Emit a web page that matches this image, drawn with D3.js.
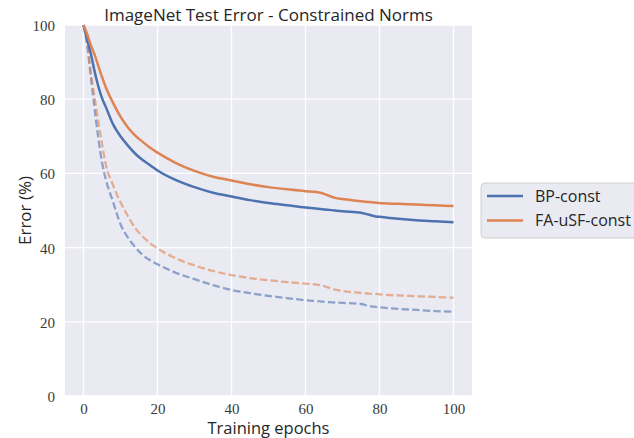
<!DOCTYPE html>
<html>
<head>
<meta charset="utf-8">
<script src="https://cdn.jsdelivr.net/npm/d3@7"></script>
<style>
  body { margin: 0; background: #fff; }
  svg { display: block; }
  .tick-label { font-family: "Liberation Serif", serif; font-size: 15px; fill: #3a3a3a; }
  .sans { font-family: "Open Sans", "DejaVu Sans", sans-serif; fill: #262626; }
</style>
</head>
<body>
<svg id="chart" width="634" height="438"></svg>
<script>
const epochs = [0, 1, 2, 3, 4, 5, 6, 8, 10, 12, 14, 16, 18, 20, 25, 30, 35, 40, 45, 50,
  55, 60, 64, 66, 68, 70, 75, 77, 79, 80, 85, 90, 95, 100]

// test error (solid)
const bpTest = [100, 96, 92.2, 87.5, 83.5, 80.3, 78, 73.2, 70, 67.5, 65.3, 63.6, 62.2, 60.8, 58.2, 56.3,
  54.8, 53.8, 52.8, 52.0, 51.4, 50.8, 50.4, 50.2, 50.0, 49.8, 49.4, 48.9, 48.4, 48.3, 47.8, 47.4, 47.1, 46.8]
const faTest = [100, 97.5, 94.5, 92, 89, 86, 83.3, 79, 75.3, 72.4, 70.2, 68.5, 66.9, 65.6, 62.8, 60.7,
  59.1, 58.1, 57.1, 56.3, 55.7, 55.2, 54.8, 54.1, 53.4, 53.1, 52.5, 52.3, 52.1, 52.0, 51.8, 51.6, 51.4, 51.2]

// train error (dashed)
const bpTrain = [100, 94.5, 86, 77.5, 69.5, 63, 58.5, 52.3, 46.3, 42.7, 40.1, 38, 36.6, 35.5, 33.2, 31.5,
  29.9, 28.6, 27.7, 27.0, 26.4, 25.8, 25.5, 25.3, 25.2, 25.1, 24.8, 24.3, 24.0, 23.9, 23.5, 23.2, 22.9, 22.7]
const faTrain = [100, 95, 87, 80.5, 74, 68, 62.5, 56.8, 52.2, 48.5, 45.2, 43, 41.2, 39.8, 37.1, 35.2,
  33.7, 32.6, 31.8, 31.2, 30.7, 30.3, 29.9, 29.3, 28.7, 28.3, 27.8, 27.6, 27.5, 27.4, 27.1, 26.9, 26.7, 26.5]

const xTicks = [0, 20, 40, 60, 80, 100]
const yTicks = [0, 20, 40, 60, 80, 100]
const legendLabels = ['BP-const', 'FA-uSF-const']

const BLUE = '#4c72b0'
const ORANGE = '#dd8452'
const MARGIN = {top: 25, left: 65}
const WIDTH = 407
const HEIGHT = 371

let svg = d3.select('#chart')
let g = svg.append('g')
  .attr('transform', 'translate(' + MARGIN.left + ',' + MARGIN.top + ')')

let x = d3.scaleLinear().domain([-5, 105]).range([0, WIDTH])
let y = d3.scaleLinear().domain([0, 100]).range([HEIGHT, 0])

g.append('rect')
  .attr('width', WIDTH)
  .attr('height', HEIGHT)
  .attr('fill', '#eaeaf2')

// grid
g.selectAll('.vgrid')
  .data(xTicks)
  .enter().append('line')
  .attr('x1', d => x(d)).attr('x2', d => x(d))
  .attr('y1', 0).attr('y2', HEIGHT)
  .attr('stroke', '#fff').attr('stroke-width', 1.3)
g.selectAll('.hgrid')
  .data(yTicks)
  .enter().append('line')
  .attr('y1', d => y(d)).attr('y2', d => y(d))
  .attr('x1', 0).attr('x2', WIDTH)
  .attr('stroke', '#fff').attr('stroke-width', 1.3)

// axes, used only for their tick labels
let xAxis = g.append('g')
  .attr('transform', 'translate(0,' + HEIGHT + ')')
  .call(d3.axisBottom(x).tickValues(xTicks).tickSize(0).tickPadding(7))
let yAxis = g.append('g')
  .call(d3.axisLeft(y).tickValues(yTicks).tickSize(0).tickPadding(10))
;[xAxis, yAxis].forEach(a => {
  a.attr('font-family', null).attr('font-size', null)
  a.select('.domain').remove()
  a.selectAll('text').attr('class', 'tick-label').attr('fill', null)
})
yAxis.selectAll('text').attr('dy', '0.36em')
xAxis.selectAll('text').attr('dy', '0.71em')

let line = d3.line()
  .x((d, i) => x(epochs[i]))
  .y(d => y(d))
  .curve(d3.curveMonotoneX)

const series = [
  {values: bpTrain, color: BLUE, dashed: true},
  {values: faTrain, color: ORANGE, dashed: true},
  {values: bpTest, color: BLUE, dashed: false},
  {values: faTest, color: ORANGE, dashed: false}
]

g.selectAll('.series')
  .data(series)
  .enter().append('path')
  .attr('d', d => line(d.values))
  .attr('fill', 'none')
  .attr('stroke', d => d.color)
  .attr('stroke-width', d => d.dashed ? 2.3 : 2.5)
  .attr('stroke-opacity', d => d.dashed ? 0.6 : 1)
  .attr('stroke-dasharray', d => d.dashed ? '7.4,3.2' : null)

// title and axis labels
svg.append('text')
  .attr('class', 'sans')
  .attr('x', MARGIN.left + WIDTH / 2)
  .attr('y', 21)
  .attr('text-anchor', 'middle')
  .style('font-size', '17px')
  .text('ImageNet Test Error - Constrained Norms')

svg.append('text')
  .attr('class', 'sans')
  .attr('x', MARGIN.left + WIDTH / 2)
  .attr('y', 434)
  .attr('text-anchor', 'middle')
  .style('font-size', '16.5px')
  .text('Training epochs')

svg.append('text')
  .attr('class', 'sans')
  .attr('transform', 'translate(31,' + (MARGIN.top + HEIGHT / 2) + ') rotate(-90)')
  .attr('text-anchor', 'middle')
  .style('font-size', '17px')
  .text('Error (%)')

// legend
let legend = svg.append('g').attr('transform', 'translate(481,183)')
legend.append('rect')
  .attr('width', 170)
  .attr('height', 55)
  .attr('rx', 4)
  .attr('fill', '#eaeaf2')
  .attr('stroke', '#d0d0d0')
  .attr('stroke-width', 1)
let items = legend.selectAll('.item')
  .data(legendLabels)
  .enter().append('g')
  .attr('transform', (d, i) => 'translate(0,' + (13 + i * 24.5) + ')')
items.append('line')
  .attr('x1', 6).attr('x2', 42)
  .attr('stroke', (d, i) => i === 0 ? BLUE : ORANGE)
  .attr('stroke-width', 2.4)
items.append('text')
  .attr('class', 'sans')
  .attr('x', 54)
  .attr('dy', '0.36em')
  .style('font-size', '16px')
  .text(d => d)
</script>
</body>
</html>
